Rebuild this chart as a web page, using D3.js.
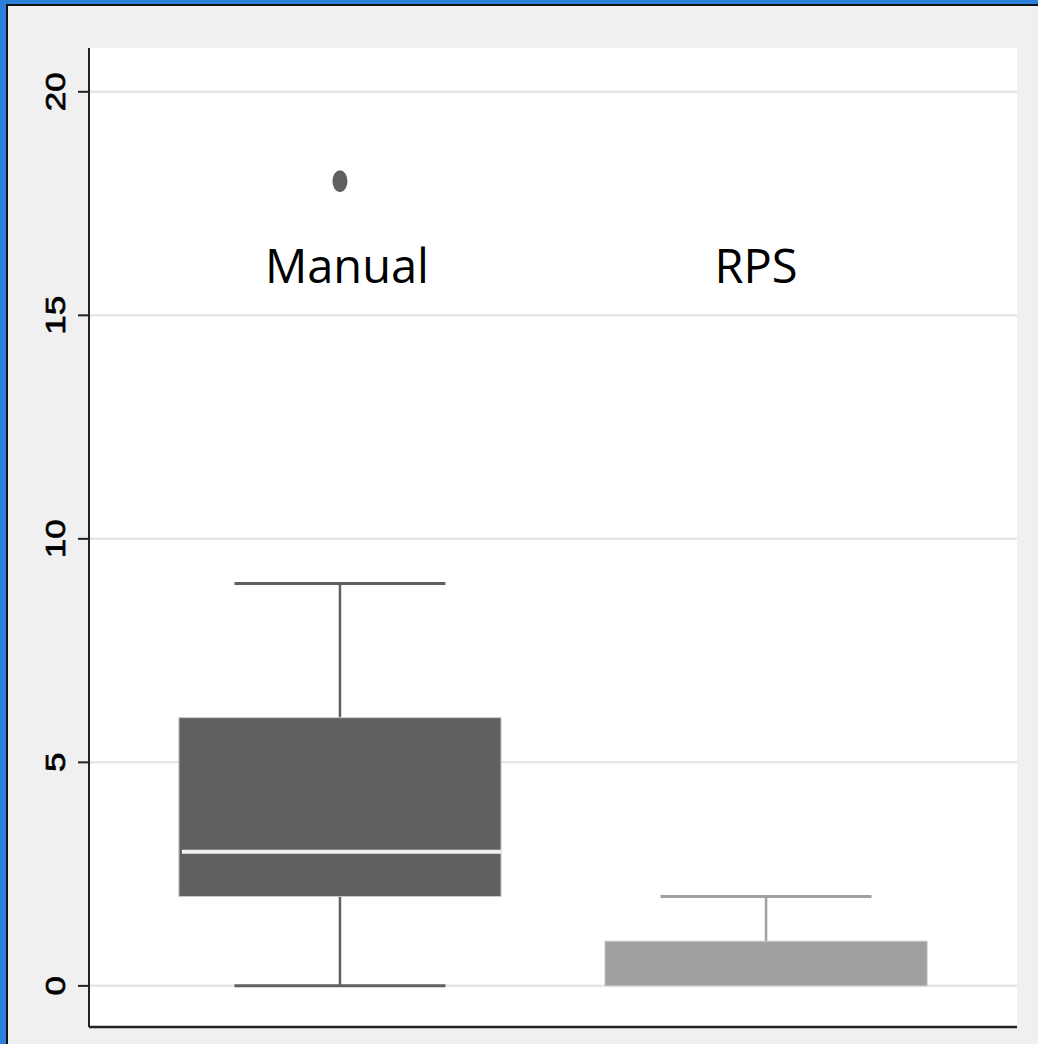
<!DOCTYPE html>
<html>
<head>
<meta charset="utf-8">
<script src="https://cdn.jsdelivr.net/npm/d3@7"></script>
<style>
  body { margin: 0; background: #f0f0f0; }
</style>
</head>
<body>
<div id="chart"></div>
<script>
// box plot values
const categories = ["Manual", "RPS"];
const lowWhisker = [0, 0];
const q1 = [2, 0];
const median = [3, 0];
const q3 = [6, 1];
const highWhisker = [9, 2];
const outliers = [[18], []];
const boxColors = ["#606060", "#a0a0a0"];
const yTicks = [0, 5, 10, 15, 20];

const width = 1038, height = 1044;

const svg = d3.select("#chart")
  .append("svg")
  .attr("width", width)
  .attr("height", height)
  .style("display", "block");

svg.append("rect")
  .attr("width", width)
  .attr("height", height)
  .attr("fill", "#f0f0f0");

// window frame
svg.append("rect").attr("x", 0).attr("y", 0).attr("width", width).attr("height", 4).attr("fill", "#2a80da");
svg.append("rect").attr("x", 0).attr("y", 0).attr("width", 6).attr("height", height).attr("fill", "#2a80da");
svg.append("rect").attr("x", 6).attr("y", 4).attr("width", width - 6).attr("height", 2).attr("fill", "#111");
svg.append("rect").attr("x", 6).attr("y", 4).attr("width", 2).attr("height", height - 4).attr("fill", "#111");

const plotLeft = 89, plotRight = 1017, plotTop = 48, plotBottom = 1027;

svg.append("rect")
  .attr("x", plotLeft)
  .attr("y", plotTop)
  .attr("width", plotRight - plotLeft)
  .attr("height", plotBottom - plotTop)
  .attr("fill", "white");

const y = d3.scaleLinear()
  .domain([-0.92, 20.98])
  .range([plotBottom, plotTop]);

const x = d3.scaleBand()
  .domain(categories)
  .range([plotLeft, plotRight])
  .paddingInner(0.244)
  .paddingOuter(0.211);

// grid
svg.append("g")
  .selectAll("line")
  .data(yTicks)
  .join("line")
  .attr("x1", plotLeft)
  .attr("x2", plotRight)
  .attr("y1", d => y(d))
  .attr("y2", d => y(d))
  .attr("stroke", "#e6e6e6")
  .attr("stroke-width", 2.5);

const data = categories.map((c, i) => ({
  cat: c,
  lo: lowWhisker[i],
  q1: q1[i],
  med: median[i],
  q3: q3[i],
  hi: highWhisker[i],
  out: outliers[i],
  color: boxColors[i]
}));

const box = svg.append("g")
  .selectAll("g")
  .data(data)
  .join("g")
  .attr("transform", d => `translate(${x(d.cat)},0)`);

const bw = x.bandwidth();
const capW = bw * 0.655;

// whiskers
box.append("line")
  .attr("x1", bw / 2).attr("x2", bw / 2)
  .attr("y1", d => y(d.hi)).attr("y2", d => y(d.q3))
  .attr("stroke", d => d.color).attr("stroke-width", 2.5);
box.filter(d => d.lo < d.q1)
  .append("line")
  .attr("x1", bw / 2).attr("x2", bw / 2)
  .attr("y1", d => y(d.q1)).attr("y2", d => y(d.lo))
  .attr("stroke", d => d.color).attr("stroke-width", 2.5);
box.append("line")
  .attr("x1", bw / 2 - capW / 2).attr("x2", bw / 2 + capW / 2)
  .attr("y1", d => y(d.hi)).attr("y2", d => y(d.hi))
  .attr("stroke", d => d.color).attr("stroke-width", 3);
box.filter(d => d.lo < d.q1)
  .append("line")
  .attr("x1", bw / 2 - capW / 2).attr("x2", bw / 2 + capW / 2)
  .attr("y1", d => y(d.lo)).attr("y2", d => y(d.lo))
  .attr("stroke", d => d.color).attr("stroke-width", 3);

// box
box.append("rect")
  .attr("x", 0)
  .attr("y", d => y(d.q3))
  .attr("width", bw)
  .attr("height", d => y(d.q1) - y(d.q3))
  .attr("fill", d => d.color)
  .attr("stroke", "#c8c8c8")
  .attr("stroke-width", 1);

// median
box.filter(d => d.med > d.q1)
  .append("line")
  .attr("x1", 3).attr("x2", bw)
  .attr("y1", d => y(d.med)).attr("y2", d => y(d.med))
  .attr("stroke", "#f0f0f0").attr("stroke-width", 4);

// outliers
box.selectAll("ellipse")
  .data(d => d.out.map(v => ({ v, color: d.color })))
  .join("ellipse")
  .attr("cx", bw / 2)
  .attr("cy", d => y(d.v))
  .attr("rx", 7.5)
  .attr("ry", 11)
  .attr("fill", d => d.color);

// category labels (slightly off the box centres in the original)
const labelShift = [7, -10];
box.append("text")
  .text(d => d.cat)
  .attr("x", (d, i) => bw / 2 + labelShift[i])
  .attr("y", 283)
  .attr("text-anchor", "middle")
  .style("font-family", "'Open Sans', sans-serif")
  .style("font-size", "47px")
  .attr("fill", "#000");

// axes
svg.append("line")
  .attr("x1", plotLeft).attr("x2", plotLeft)
  .attr("y1", plotTop).attr("y2", plotBottom)
  .attr("stroke", "#222").attr("stroke-width", 2);
svg.append("line")
  .attr("x1", plotLeft).attr("x2", plotRight)
  .attr("y1", plotBottom).attr("y2", plotBottom)
  .attr("stroke", "#222").attr("stroke-width", 2.5);

svg.append("g")
  .selectAll("line")
  .data(yTicks)
  .join("line")
  .attr("x1", 78).attr("x2", plotLeft)
  .attr("y1", d => y(d)).attr("y2", d => y(d))
  .attr("stroke", "#222").attr("stroke-width", 2);

// tick labels are drawn a bit wide and heavy in the original
svg.append("g")
  .selectAll("text")
  .data(yTicks)
  .join("text")
  .text(d => d)
  .attr("transform", d => `translate(65,${y(d)}) rotate(-90) scale(1.25,1)`)
  .attr("text-anchor", "middle")
  .style("font-family", "'Liberation Sans', Arial, sans-serif")
  .style("font-size", "28px")
  .attr("fill", "#000")
  .attr("stroke", "#000")
  .attr("stroke-width", 0.7);
</script>
</body>
</html>
